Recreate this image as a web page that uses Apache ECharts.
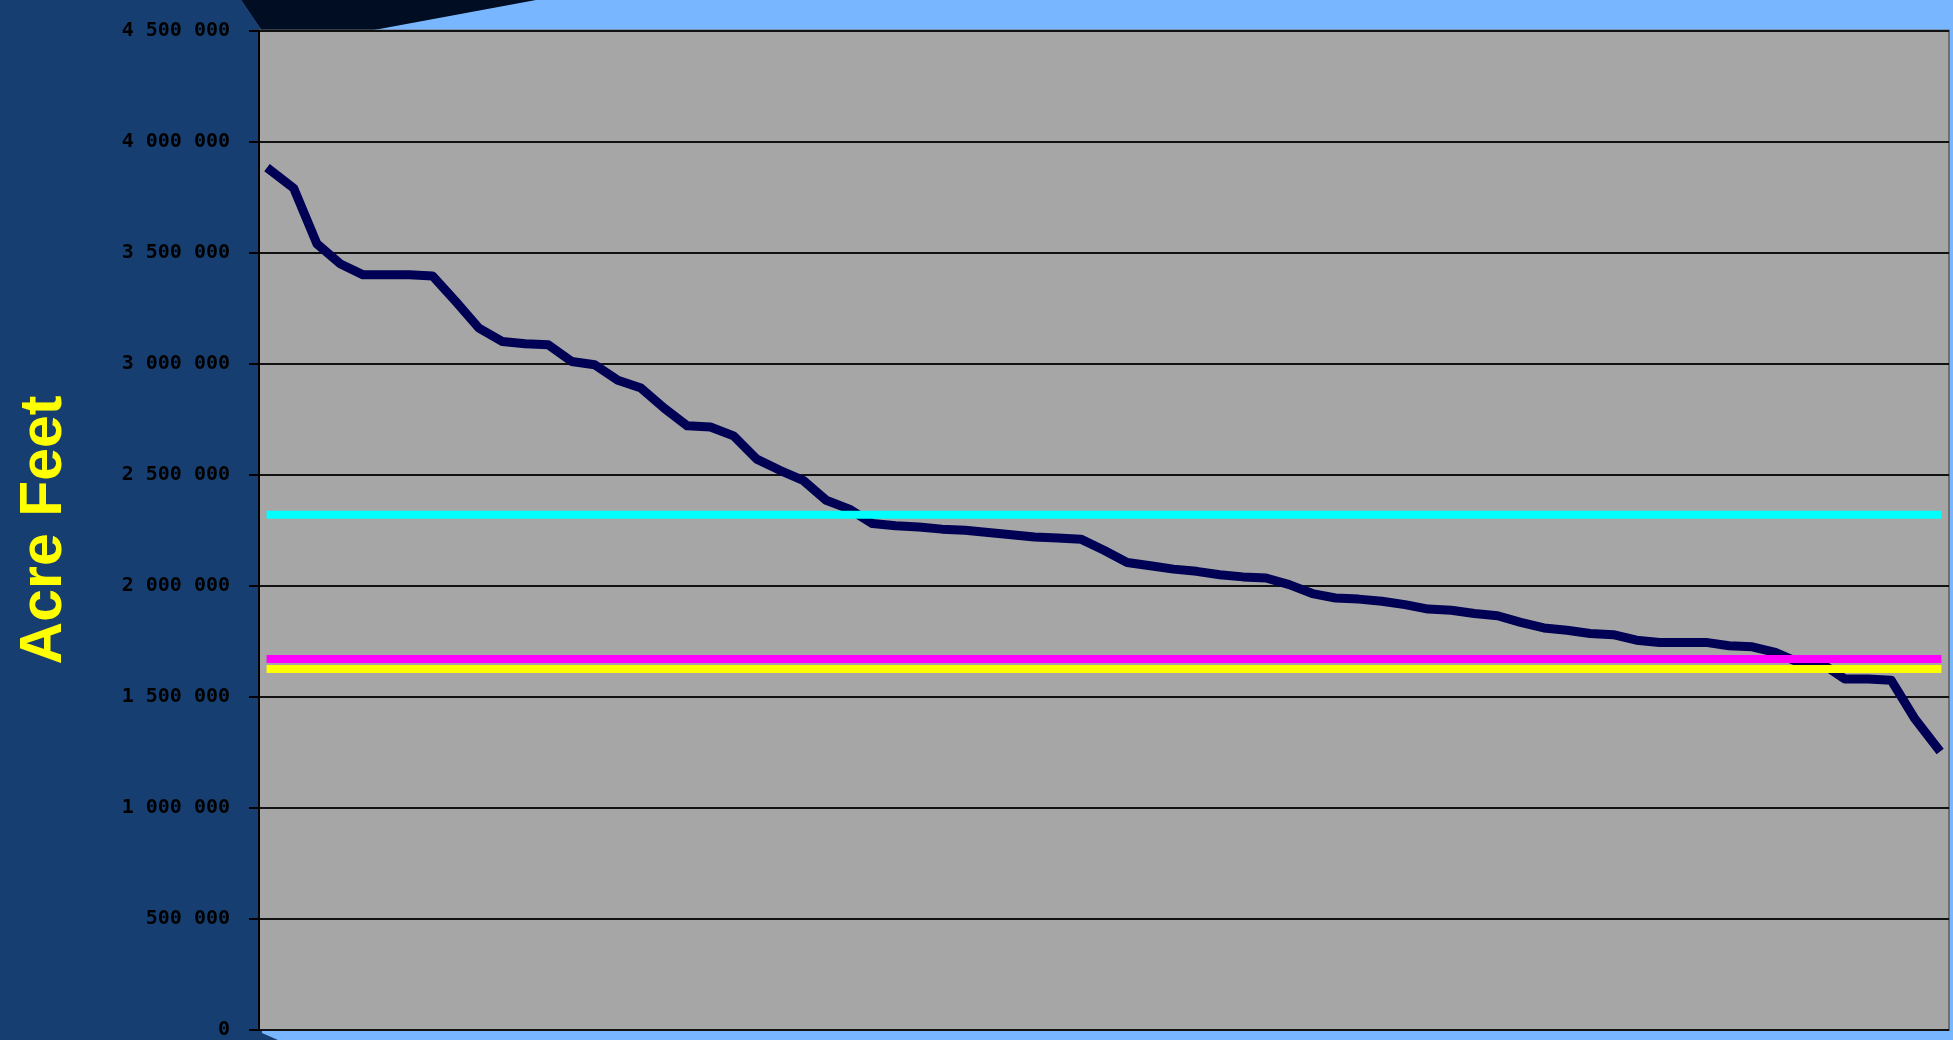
<!DOCTYPE html>
<html>
<head>
<meta charset="utf-8">
<title>Acre Feet</title>
<script src="https://cdn.jsdelivr.net/npm/echarts@6/dist/echarts.min.js"></script>
<style>
  html, body { margin: 0; padding: 0; background: #78B6FF; }
  #chart { width: 1953px; height: 1040px; }
</style>
</head>
<body>
<div id="chart"></div>
<script>
// Ranked annual volumes (largest to smallest)
const ranks = [
  '1', '2', '3', '4', '5', '6', '7', '8', '9', '10', '11', '12', '13', '14', '15', '16', '17', '18', '19', '20',
  '21', '22', '23', '24', '25', '26', '27', '28', '29', '30', '31', '32', '33', '34', '35', '36', '37', '38', '39', '40',
  '41', '42', '43', '44', '45', '46', '47', '48', '49', '50', '51', '52', '53', '54', '55', '56', '57', '58', '59', '60',
  '61', '62', '63', '64', '65', '66', '67', '68', '69', '70', '71', '72', '73'
];

const acreFeet = [
  3870000, 3790000, 3540000, 3450000, 3400000, 3400000, 3400000, 3395000, 3280000, 3160000,
  3100000, 3090000, 3085000, 3010000, 2995000, 2925000, 2890000, 2800000, 2720000, 2715000,
  2675000, 2570000, 2520000, 2475000, 2385000, 2345000, 2280000, 2270000, 2265000, 2255000,
  2250000, 2240000, 2230000, 2220000, 2215000, 2210000, 2160000, 2105000, 2090000, 2075000,
  2065000, 2050000, 2040000, 2035000, 2005000, 1965000, 1945000, 1940000, 1930000, 1915000,
  1895000, 1890000, 1875000, 1865000, 1835000, 1810000, 1800000, 1785000, 1780000, 1755000,
  1745000, 1745000, 1745000, 1730000, 1725000, 1700000, 1655000, 1650000, 1580000, 1580000,
  1575000, 1405000, 1270000
];

// Reference levels
const cyanLevel = 2320000;
const magentaLevel = 1670000;
const yellowLevel = 1625000;

const yTickValues = [0, 500000, 1000000, 1500000, 2000000, 2500000, 3000000, 3500000, 4000000, 4500000];
const yTickLabels = ['0', '500 000', '1 000 000', '1 500 000', '2 000 000', '2 500 000',
                     '3 000 000', '3 500 000', '4 000 000', '4 500 000'];

const firstRank = ranks[0];
const lastRank = ranks[ranks.length - 1];

// A flat level drawn from the first ranked year to the last one
function levelSeries(value, color) {
  return {
    type: 'line',
    data: [[firstRank, value], [lastRank, value]],
    showSymbol: false,
    symbol: 'none',
    silent: true,
    z: 3,
    lineStyle: { color: color, width: 8, cap: 'square' }
  };
}

const chart = echarts.init(document.getElementById('chart'), null, { renderer: 'canvas' });

chart.setOption({
  backgroundColor: '#78B6FF',
  animation: false,
  graphic: [
    {
      type: 'polygon',
      z: -1,
      shape: { points: [[0, 0], [241, 0], [262, 31], [262, 1033], [278, 1040], [0, 1040]] },
      style: { fill: '#173E70' }
    },
    {
      type: 'polygon',
      z: -1,
      shape: { points: [[241, 0], [536, 0], [374, 30], [262, 31]] },
      style: { fill: '#000D22' }
    },
    {
      type: 'text',
      x: 45,
      y: 530,
      rotation: Math.PI / 2,
      style: {
        text: 'Acre Feet',
        fill: '#FFFF00',
        font: 'bold 59px "Liberation Sans", Arial, sans-serif',
        align: 'center',
        verticalAlign: 'middle'
      }
    }
  ],
  grid: {
    left: 259,
    top: 30.5,
    width: 1690,
    bottom: 7.5,
    show: true,
    backgroundColor: '#A6A6A6',
    borderColor: '#6E6E6E',
    borderWidth: 2
  },
  xAxis: {
    type: 'category',
    data: ranks,
    boundaryGap: true,
    axisLine: { show: false },
    axisTick: { show: false },
    axisLabel: { show: false },
    splitLine: { show: false }
  },
  yAxis: {
    type: 'value',
    min: 0,
    max: 4500000,
    interval: 500000,
    axisLine: { show: true, lineStyle: { color: '#000', width: 2 } },
    axisTick: { show: true, inside: false, length: 10, lineStyle: { color: '#000', width: 2 } },
    axisLabel: {
      margin: 29,
      color: '#000',
      fontFamily: '"DejaVu Sans Mono", monospace',
      fontWeight: 'bold',
      fontSize: 20,
      padding: [0, 0, 8, 0],
      formatter: function (v) {
        const i = yTickValues.indexOf(v);
        return i >= 0 ? yTickLabels[i] : '';
      }
    },
    splitLine: { show: true, lineStyle: { color: '#111', width: 2 } }
  },
  series: [
    {
      type: 'line',
      data: acreFeet,
      showSymbol: false,
      symbol: 'none',
      silent: true,
      z: 2,
      lineStyle: { color: '#000055', width: 9, cap: 'square', join: 'round' }
    },
    levelSeries(cyanLevel, '#00FFFF'),
    levelSeries(magentaLevel, '#FF00FF'),
    levelSeries(yellowLevel, '#FFFF00')
  ]
});
</script>
</body>
</html>
